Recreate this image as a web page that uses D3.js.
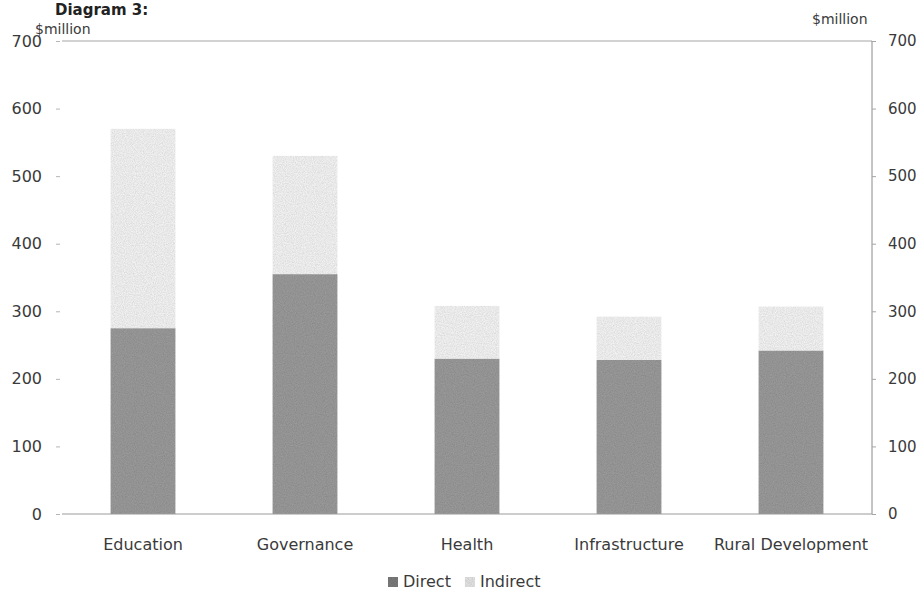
<!DOCTYPE html>
<html>
<head>
<meta charset="utf-8">
<script src="https://cdn.jsdelivr.net/npm/d3@7"></script>
<style>
  body { margin: 0; background: #fff; }
  text { font-family: "DejaVu Sans", Verdana, sans-serif; fill: #3a3a3a; }
</style>
</head>
<body>
<div id="chart-area"></div>
<script>
// data
const categories = ["Education", "Governance", "Health", "Infrastructure", "Rural Development"];
const direct   = [275, 355, 230, 228, 242];
const indirect = [295, 175, 78, 64, 65];
const seriesNames = ["Direct", "Indirect"];
const yTicks = [0, 100, 200, 300, 400, 500, 600, 700];

// layout
const width = 923, height = 600;
const plot = {LEFT: 62, RIGHT: 872, TOP: 41, BOTTOM: 514};
const colors = {Direct: "#9a9a9a", Indirect: "#f3f3f3"};

let svg = d3.select("#chart-area").append("svg")
            .attr("width", width)
            .attr("height", height);

// grain like the photocopy
let defs = svg.append("defs");
let grain = defs.append("filter").attr("id", "grain");
grain.append("feTurbulence")
     .attr("type", "fractalNoise").attr("baseFrequency", 0.9)
     .attr("numOctaves", 2).attr("seed", 3).attr("result", "noise");
grain.append("feColorMatrix")
     .attr("in", "noise").attr("type", "matrix")
     .attr("values", "0 0 0 0 0  0 0 0 0 0  0 0 0 0 0  0 0 0 0.35 -0.08")
     .attr("result", "dots");
grain.append("feComposite").attr("in", "dots").attr("in2", "SourceGraphic")
     .attr("operator", "in").attr("result", "dotsIn");
grain.append("feMerge").call(m => {
    m.append("feMergeNode").attr("in", "SourceGraphic");
    m.append("feMergeNode").attr("in", "dotsIn");
});

// scales
let x = d3.scaleBand()
          .domain(categories)
          .range([plot.LEFT, plot.RIGHT])
          .paddingInner(0.6)
          .paddingOuter(0.3);
let y = d3.scaleLinear().domain([0, 700]).range([plot.BOTTOM, plot.TOP]);

// title (cut off at the top of the scan)
svg.append("text")
   .attr("x", 55).attr("y", 15)
   .attr("font-size", "15px").attr("font-weight", "bold")
   .style("fill", "#222")
   .text("Diagram 3:");

// plot frame top line
svg.append("line")
   .attr("x1", plot.LEFT).attr("x2", plot.RIGHT)
   .attr("y1", y(700)).attr("y2", y(700))
   .attr("stroke", "#a5a5a5").attr("stroke-width", 1);

// stacked bars
let stackData = categories.map((c, i) => ({cat: c, Direct: direct[i], Indirect: indirect[i]}));
let stacked = d3.stack().keys(seriesNames)(stackData);

svg.append("g").attr("id", "bars")
   .selectAll("g")
   .data(stacked)
   .enter().append("g")
   .attr("fill", d => colors[d.key])
   .attr("filter", "url(#grain)")
   .selectAll("rect")
   .data(d => d)
   .enter().append("rect")
   .attr("x", d => x(d.data.cat))
   .attr("y", d => y(d[1]))
   .attr("width", x.bandwidth())
   .attr("height", d => y(d[0]) - y(d[1]));

// left axis
let axisL = d3.axisLeft(y).tickValues(yTicks).tickSize(4).tickPadding(14);
let gL = svg.append("g")
            .attr("transform", `translate(${plot.LEFT - 2},0)`)
            .call(axisL);
gL.select(".domain").remove();
gL.selectAll(".tick line").attr("stroke", "#b5b5b5");
gL.selectAll("text").attr("font-size", "16px").style("fill", "#3a3a3a")
  .attr("font-family", "'DejaVu Sans Condensed', 'DejaVu Sans', sans-serif");

// right axis
let axisR = d3.axisRight(y).tickValues(yTicks).tickSize(4).tickPadding(12);
let gR = svg.append("g")
            .attr("transform", `translate(${plot.RIGHT},0)`)
            .call(axisR);
gR.select(".domain").attr("stroke", "#8a8a8a").attr("d", `M0,${y(700)}V${y(0)}`);
gR.selectAll(".tick line").attr("stroke", "#a5a5a5");
gR.selectAll("text").attr("font-size", "15px").style("fill", "#3a3a3a")
  .attr("font-family", "'DejaVu Sans', sans-serif");

// bottom axis
let axisB = d3.axisBottom(x).tickSize(0).tickPadding(25);
let gB = svg.append("g")
            .attr("transform", `translate(0,${plot.BOTTOM})`)
            .call(axisB);
gB.select(".domain").attr("stroke", "#9a9a9a").attr("d", `M${plot.LEFT},0H${plot.RIGHT}`);
gB.selectAll("text").attr("font-size", "16px").style("fill", "#3a3a3a")
  .attr("font-family", "'DejaVu Sans', sans-serif");

// unit labels
svg.append("text").attr("x", 35).attr("y", 34)
   .attr("font-size", "14px")
   .attr("font-family", "'DejaVu Sans Condensed', 'DejaVu Sans', sans-serif")
   .text("$million");
svg.append("text").attr("x", 812).attr("y", 24)
   .attr("font-size", "14px")
   .attr("font-family", "'DejaVu Sans Condensed', 'DejaVu Sans', sans-serif")
   .text("$million");

// legend
let legend = svg.append("g").attr("transform", "translate(388,586)");
let lx = 0;
seriesNames.forEach(function(name){
    let item = legend.append("g").attr("transform", `translate(${lx},0)`);
    item.append("rect")
        .attr("x", 0).attr("y", -9)
        .attr("width", 10).attr("height", 10)
        .attr("fill", name == "Direct" ? "#7a7a7a" : "#e2e2e2")
        .attr("filter", "url(#grain)");
    let t = item.append("text")
        .attr("x", 15).attr("y", 1)
        .attr("font-size", "16px")
        .attr("font-family", "'DejaVu Sans Condensed', 'DejaVu Sans', sans-serif")
        .text(name);
    lx += 15 + t.node().getComputedTextLength() + 14;
});
</script>
</body>
</html>
